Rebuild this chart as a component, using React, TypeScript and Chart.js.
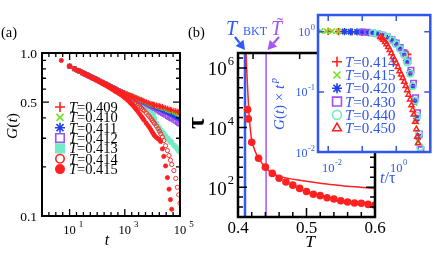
import React, { useEffect, useRef } from "react";
import { Chart, registerables } from "chart.js";
import { drawPoint } from "chart.js/helpers";
Chart.register(...registerables);

const SERIF = '"Liberation Serif","Times New Roman",Times,serif';
const RED = "#ff2020";
const GREEN = "#72e024";
const BLUE = "#1f3ff0";
const PURPLE = "#a24ff0";
const AQUA = "#72ecc6";
const IBLUE = "#2f56ee";
const LBLUE = "#2f5cf5";
const LPURPLE = "#a855f7";

// ---------------- Panel (a): G(t) vs t ----------------
const tEarly = [10, 15, 20, 25, 30, 35, 40, 45, 50, 60, 70, 80, 90, 100, 120, 140, 160, 180, 200, 230, 260, 300, 350, 400, 450, 500, 600, 700, 800, 900];
const gEarly = [0.83, 0.8, 0.78, 0.77, 0.755, 0.745, 0.738, 0.731, 0.724, 0.713, 0.704, 0.697, 0.69, 0.684, 0.673, 0.664, 0.656, 0.65, 0.645, 0.637, 0.63, 0.622, 0.614, 0.607, 0.601, 0.595, 0.586, 0.578, 0.572, 0.566];
const tLate = [1000, 1200, 1400, 1600, 1800, 2000, 2300, 2600, 3000, 3500, 4000, 4500, 5000, 6000, 7000, 8000, 9000, 10000, 11000, 12000, 14000, 16000, 18000, 20000, 23000, 26000, 30000, 35000, 40000, 45000, 50000, 60000, 70000, 80000, 90000, 100000];
const gLate409 = [0.565, 0.56, 0.553, 0.548, 0.544, 0.54, 0.535, 0.53, 0.525, 0.52, 0.515, 0.51, 0.506, 0.5, 0.495, 0.49, 0.487, 0.485, 0.482, 0.48, 0.477, 0.474, 0.472, 0.47, 0.467, 0.463, 0.46, 0.456, 0.452, 0.449, 0.447, 0.443, 0.44, 0.437, 0.434, 0.432];
const gLate410 = [0.565, 0.56, 0.553, 0.548, 0.544, 0.54, 0.535, 0.53, 0.525, 0.519, 0.513, 0.508, 0.504, 0.498, 0.492, 0.487, 0.483, 0.48, 0.477, 0.475, 0.471, 0.467, 0.465, 0.463, 0.459, 0.456, 0.452, 0.447, 0.443, 0.44, 0.437, 0.432, 0.428, 0.424, 0.421, 0.418];
const gLate411 = [0.563, 0.557, 0.551, 0.546, 0.541, 0.537, 0.531, 0.526, 0.52, 0.515, 0.51, 0.505, 0.501, 0.494, 0.488, 0.483, 0.479, 0.475, 0.471, 0.468, 0.463, 0.458, 0.455, 0.452, 0.447, 0.443, 0.438, 0.433, 0.428, 0.424, 0.42, 0.413, 0.407, 0.402, 0.398, 0.394];
const gLate412 = [0.562, 0.555, 0.549, 0.543, 0.538, 0.533, 0.527, 0.521, 0.515, 0.509, 0.503, 0.498, 0.494, 0.487, 0.48, 0.475, 0.47, 0.466, 0.461, 0.456, 0.449, 0.442, 0.437, 0.432, 0.426, 0.421, 0.415, 0.408, 0.402, 0.398, 0.394, 0.387, 0.381, 0.375, 0.37, 0.366];
const gLate413 = [0.555, 0.547, 0.539, 0.532, 0.526, 0.52, 0.512, 0.504, 0.495, 0.486, 0.478, 0.471, 0.466, 0.455, 0.446, 0.437, 0.428, 0.42, 0.413, 0.395, 0.37, 0.355, 0.345, 0.335, 0.327, 0.319, 0.31, 0.301, 0.293, 0.287, 0.282, 0.272, 0.265, 0.258, 0.252, 0.247];
const gLate414 = [0.548, 0.539, 0.531, 0.523, 0.515, 0.507, 0.497, 0.488, 0.478, 0.467, 0.458, 0.45, 0.443, 0.428, 0.416, 0.405, 0.395, 0.385, 0.377, 0.369, 0.356, 0.343, 0.331, 0.32, 0.305, 0.29, 0.27, 0.252, 0.235, 0.22, 0.207, 0.19, 0.17, 0.15, 0.135, 0.12];
const tA415 = [5, ...tEarly, ...tLate.slice(0, 31)];
const gA415 = [0.9, 0.83, 0.8, 0.78, 0.768, 0.753, 0.743, 0.735, 0.728, 0.72, 0.709, 0.7, 0.692, 0.685, 0.678, 0.666, 0.656, 0.648, 0.641, 0.635, 0.626, 0.618, 0.608, 0.598, 0.59, 0.583, 0.576, 0.565, 0.556, 0.548, 0.541,
  0.53, 0.517, 0.505, 0.494, 0.484, 0.475, 0.462, 0.45, 0.436, 0.421, 0.408, 0.397, 0.387, 0.371, 0.358, 0.347, 0.336, 0.326, 0.318, 0.311, 0.303, 0.298, 0.293, 0.286, 0.258, 0.232, 0.203, 0.172, 0.146, 0.126, 0.11];
const tA = [...tEarly, ...tLate];
const legendA = ["0.409", "0.410", "0.411", "0.412", "0.413", "0.414", "0.415"];

// ---------------- Panel (b): tau vs T ----------------
const bT = [0.414, 0.415, 0.42, 0.43, 0.44, 0.45, 0.46, 0.47, 0.48, 0.49, 0.5, 0.51, 0.52, 0.53, 0.54, 0.55, 0.56, 0.57, 0.58, 0.59, 0.6];
const bTau = [40000, 19500, 3200, 930, 470, 290, 200, 150, 117, 91, 72, 58, 52, 44, 40, 35, 32, 29.5, 29, 26.5, 25];
const fitT = [0.4115, 0.412, 0.413, 0.414, 0.415, 0.4165, 0.418, 0.42, 0.425, 0.43, 0.44, 0.45, 0.46, 0.47, 0.49, 0.52, 0.54, 0.56, 0.6];
const fitTau = [5e6, 2.2e6, 6.3e5, 2.2e5, 8e4, 2e4, 9000, 3800, 1600, 950, 460, 290, 235, 205, 170, 135, 120, 107, 91];
const T_BKT = 0.4102;
const T_TILDE = 0.441;

// ---------------- Inset: G(t) t^p vs t/tau ----------------
const ix414 = [0.0025, 0.005, 0.01, 0.02, 0.05, 0.1, 0.2, 0.4, 0.7, 1.0, 1.5, 2.2];
const iy414 = [1.03, 1.03, 1.02, 1.01, 1.0, 0.98, 0.95, 0.87, 0.74, 0.63, 0.5, 0.42];
const ix415 = [0.006, 0.009, 0.013, 0.02, 0.03, 0.045, 0.07, 0.1, 0.15, 0.22, 0.32, 0.45, 0.65, 0.9, 1.2, 1.6, 2.0, 2.5, 3.0, 3.5, 4.0, 4.4];
const iy415 = [1.03, 1.03, 1.03, 1.02, 1.02, 1.01, 1.0, 0.99, 0.97, 0.94, 0.9, 0.85, 0.76, 0.66, 0.55, 0.43, 0.32, 0.2, 0.12, 0.065, 0.032, 0.015];
const ix420 = [0.03, 0.045, 0.07, 0.1, 0.15, 0.22, 0.32, 0.45, 0.65, 0.9, 1.2, 1.6, 2.0, 2.5, 3.0, 3.5, 4.0, 4.5];
const iy420 = [1.01, 1.0, 0.995, 0.985, 0.97, 0.945, 0.91, 0.86, 0.77, 0.67, 0.56, 0.44, 0.33, 0.21, 0.125, 0.07, 0.036, 0.018];
const ix430 = [0.1, 0.14, 0.2, 0.28, 0.4, 0.55, 0.75, 1.0, 1.3, 1.7, 2.2, 2.7, 3.2, 3.7, 4.2, 4.8, 5.3];
const iy430 = [0.99, 0.98, 0.96, 0.93, 0.88, 0.82, 0.74, 0.65, 0.55, 0.45, 0.33, 0.23, 0.14, 0.08, 0.045, 0.02, 0.011];
const ix440 = [0.2, 0.28, 0.4, 0.55, 0.75, 1.0, 1.3, 1.7, 2.1, 2.6, 3.1, 3.6, 4.1, 4.6, 5.0];
const iy440 = [0.96, 0.93, 0.88, 0.81, 0.72, 0.62, 0.52, 0.41, 0.31, 0.2, 0.125, 0.072, 0.04, 0.02, 0.012];
const ix450 = [0.34, 0.38, 0.42, 0.47, 0.52, 0.58, 0.65, 0.72, 0.8, 0.9, 1.0, 1.12, 1.25, 1.4, 1.55, 1.72, 1.9, 2.1, 2.3, 2.55, 2.8, 3.05, 3.3, 3.6, 3.9, 4.15, 4.4];
const iy450 = [0.82, 0.78, 0.74, 0.68, 0.62, 0.56, 0.5, 0.44, 0.38, 0.34, 0.3, 0.26, 0.22, 0.195, 0.17, 0.147, 0.125, 0.107, 0.09, 0.075, 0.06, 0.05, 0.042, 0.032, 0.024, 0.018, 0.014];
const legendI = ["0.414", "0.415", "0.420", "0.430", "0.440", "0.450"];

// ---------------- helpers ----------------
type Seg = { t: string; s: number; it?: boolean; b?: boolean; dy?: number; dx?: number };
const fontOf = (g: Seg) => `${g.it ? "italic " : ""}${g.b ? "bold " : ""}${g.s}px ${SERIF}`;
function segsWidth(ctx: CanvasRenderingContext2D, segs: Seg[]) {
  let w = 0;
  for (const g of segs) { ctx.font = fontOf(g); w += (g.dx || 0) + ctx.measureText(g.t).width; }
  return w;
}
function drawRich(ctx: CanvasRenderingContext2D, segs: Seg[], x: number, y: number, align: string, color: string, rot = 0) {
  ctx.save();
  ctx.translate(x, y);
  if (rot) ctx.rotate(rot);
  ctx.fillStyle = color;
  ctx.textBaseline = "alphabetic";
  ctx.textAlign = "left";
  let cx = 0;
  if (align === "center") cx = -segsWidth(ctx, segs) / 2;
  else if (align === "right") cx = -segsWidth(ctx, segs);
  else if (align === "first") cx = -segsWidth(ctx, [segs[0]]) / 2;
  for (const g of segs) {
    ctx.font = fontOf(g);
    cx += g.dx || 0;
    ctx.fillText(g.t, cx, g.dy || 0);
    cx += ctx.measureText(g.t).width;
  }
  ctx.restore();
}
const pow10 = (e: string, s: number, es: number, dy: number, gap = 0): Seg[] => [{ t: "10", s }, { t: e, s: es, dy, dx: gap }];

function marker(ctx: CanvasRenderingContext2D, style: string, x: number, y: number, r: number, stroke: string, fill: string, bw: number) {
  ctx.save();
  ctx.strokeStyle = stroke;
  ctx.fillStyle = fill;
  ctx.lineWidth = bw;
  drawPoint(ctx, { pointStyle: style, radius: r, rotation: 0, borderWidth: bw } as any, x, y);
  ctx.restore();
}
function arrow(ctx: CanvasRenderingContext2D, x1: number, y1: number, x2: number, y2: number, color: string, w: number, head: number) {
  ctx.save();
  ctx.strokeStyle = color; ctx.fillStyle = color; ctx.lineWidth = w;
  const a = Math.atan2(y2 - y1, x2 - x1);
  const bx = x2 - head * Math.cos(a), by = y2 - head * Math.sin(a);
  ctx.beginPath(); ctx.moveTo(x1, y1); ctx.lineTo(bx, by); ctx.stroke();
  const hw = head * 0.55;
  ctx.beginPath();
  ctx.moveTo(x2, y2);
  ctx.lineTo(bx + hw * Math.sin(a), by - hw * Math.cos(a));
  ctx.lineTo(bx - hw * Math.sin(a), by + hw * Math.cos(a));
  ctx.closePath(); ctx.fill();
  ctx.restore();
}

type Tk = { v: number; len: number };
function decoPlugin(o: { color: string; frameW: number; tickW: number; xt: Tk[]; xtTop?: Tk[]; yt: Tk[]; bg?: string; extra: (c: any, ctx: CanvasRenderingContext2D) => void }) {
  return {
    id: "deco",
    beforeDatasetsDraw(chart: any) {
      if (!o.bg) return;
      const a = chart.chartArea, ctx = chart.ctx;
      ctx.save(); ctx.fillStyle = o.bg; ctx.fillRect(a.left, a.top, a.right - a.left, a.bottom - a.top); ctx.restore();
    },
    afterDraw(chart: any) {
      const ctx: CanvasRenderingContext2D = chart.ctx;
      const a = chart.chartArea, xs = chart.scales.x, ys = chart.scales.y;
      ctx.save();
      ctx.strokeStyle = o.color; ctx.lineWidth = o.tickW;
      ctx.beginPath();
      for (const t of o.xt) { const p = xs.getPixelForValue(t.v); ctx.moveTo(p, a.bottom); ctx.lineTo(p, a.bottom - t.len); }
      for (const t of (o.xtTop || o.xt)) { const p = xs.getPixelForValue(t.v); ctx.moveTo(p, a.top); ctx.lineTo(p, a.top + t.len); }
      for (const t of o.yt) { const p = ys.getPixelForValue(t.v); ctx.moveTo(a.left, p); ctx.lineTo(a.left + t.len, p); ctx.moveTo(a.right, p); ctx.lineTo(a.right - t.len, p); }
      ctx.stroke();
      ctx.lineWidth = o.frameW;
      ctx.strokeRect(a.left, a.top, a.right - a.left, a.bottom - a.top);
      ctx.restore();
      o.extra(chart, ctx);
    },
  };
}
const pts = (xs: number[], ys: number[]) => xs.map((x, i) => ({ x, y: ys[i] }));
const baseOpts = (pad: any, xsc: any, ysc: any) => ({
  animation: false, responsive: false, maintainAspectRatio: false, events: [],
  layout: { padding: pad },
  plugins: { legend: { display: false }, tooltip: { enabled: false }, title: { display: false } },
  scales: { x: { ...xsc, display: false }, y: { ...ysc, display: false } },
});

// ---------------- chart configs ----------------
const styleA: any = {
  "0.409": { pointStyle: "cross", borderColor: RED, backgroundColor: RED, r: 2.8, bw: 1.2 },
  "0.410": { pointStyle: "crossRot", borderColor: GREEN, backgroundColor: GREEN, r: 2.8, bw: 1.2 },
  "0.411": { pointStyle: "star", borderColor: BLUE, backgroundColor: BLUE, r: 2.8, bw: 1.1 },
  "0.412": { pointStyle: "rect", borderColor: PURPLE, backgroundColor: "rgba(0,0,0,0)", r: 2.8, bw: 1.1 },
  "0.413": { pointStyle: "rect", borderColor: AQUA, backgroundColor: AQUA, r: 2.8, bw: 1 },
  "0.414": { pointStyle: "circle", borderColor: RED, backgroundColor: "rgba(0,0,0,0)", r: 2.1, bw: 0.9 },
  "0.415": { pointStyle: "circle", borderColor: RED, backgroundColor: RED, r: 2.1, bw: 0.8 },
};
const dsA = (key: string, xs: number[], ys: number[]) => {
  const s = styleA[key];
  return { data: pts(xs, ys), pointStyle: s.pointStyle, borderColor: s.borderColor, backgroundColor: s.backgroundColor, pointRadius: s.r, borderWidth: s.bw, showLine: false };
};

function configA() {
  const xt: Tk[] = [];
  for (let k = 0; k <= 20; k++) xt.push({ v: Math.pow(10, k / 4), len: k % 8 === 4 ? 7 : 4 });
  const yt: Tk[] = [0.1, 0.2, 0.3, 0.4, 0.5, 0.6, 0.7, 0.8, 0.9, 1.0].map((v) => ({ v, len: v === 0.1 || v === 0.5 || v === 1.0 ? 7 : 4 }));
  return {
    type: "scatter",
    data: {
      datasets: [
        dsA("0.415", tA415, gA415),
        dsA("0.414", tA, [...gEarly, ...gLate414]),
        dsA("0.409", tA, [...gEarly, ...gLate409]),
        dsA("0.410", tA, [...gEarly, ...gLate410]),
        dsA("0.411", tA, [...gEarly, ...gLate411]),
        dsA("0.412", tA, [...gEarly, ...gLate412]),
        dsA("0.413", tA, [...gEarly, ...gLate413]),
      ],
    },
    options: baseOpts({ left: 42, top: 53, right: 20, bottom: 37 }, { type: "logarithmic", min: 1, max: 1e5 }, { type: "logarithmic", min: 0.1, max: 1.0 }),
    plugins: [decoPlugin({
      color: "#000", frameW: 2, tickW: 1.3, xt, yt,
      extra: (c, ctx) => {
        const xs = c.scales.x, ys = c.scales.y;
        drawRich(ctx, [{ t: "(a)", s: 14.5 }], 1, 37, "left", "#000");
        for (const [v, l] of [[1.0, "1.0"], [0.5, "0.5"], [0.1, "0.1"]] as [number, string][]) {
          drawRich(ctx, [{ t: l, s: 13.5 }], 37, ys.getPixelForValue(v) + 4.5, "right", "#000");
        }
        for (const e of [1, 3, 5]) {
          drawRich(ctx, pow10(String(e), 12.5, 9, -7, 3), xs.getPixelForValue(Math.pow(10, e)), 233.5, "first", "#000");
        }
        drawRich(ctx, [{ t: "G", s: 15.5, it: true }, { t: "(", s: 15.5 }, { t: "t", s: 15.5, it: true }, { t: ")", s: 15.5 }], 17, 126, "center", "#000", -Math.PI / 2);
        drawRich(ctx, [{ t: "t", s: 16, it: true }], 107, 245, "center", "#000");
        legendA.forEach((lab, i) => {
          const y = 107 + i * 10.35;
          const s = styleA[lab];
          marker(ctx, s.pointStyle, 60, y, s.pointStyle === "rect" ? 6 : s.pointStyle === "circle" ? 4.2 : 5, s.borderColor, s.backgroundColor === "rgba(0,0,0,0)" ? "#fff" : s.backgroundColor, 1.6);
          drawRich(ctx, [{ t: "T", s: 14.5, it: true }, { t: "=" + lab, s: 14.5 }], 69, y + 5, "left", "#000");
        });
      },
    })],
  };
}

function configB() {
  const L = 185;
  const xt: Tk[] = [];
  for (let i = 0; i <= 10; i++) xt.push({ v: 0.4 + 0.02 * i, len: i % 5 === 0 ? 9 : 5 });
  const yt: Tk[] = [];
  for (let k = 3; k <= 19; k++) yt.push({ v: Math.pow(10, k / 3), len: k % 6 === 0 ? 9 : 5 });
  return {
    type: "scatter",
    data: {
      datasets: [
        { data: pts(bT, bTau), pointStyle: "circle", pointRadius: 3.8, borderWidth: 0, backgroundColor: RED, borderColor: RED, showLine: false },
        { data: pts(fitT, fitTau), showLine: true, pointRadius: 0, borderColor: RED, borderWidth: 1.5, tension: 0.3 },
        { data: [{ x: T_BKT, y: 10 }, { x: T_BKT, y: 3.2e6 }], showLine: true, pointRadius: 0, borderColor: LBLUE, borderWidth: 2.5 },
        { data: [{ x: T_TILDE, y: 10 }, { x: T_TILDE, y: 3.2e6 }], showLine: true, pointRadius: 0, borderColor: LPURPLE, borderWidth: 1.5 },
      ],
    },
    options: baseOpts({ left: 53, top: 53, right: 61, bottom: 36 }, { type: "linear", min: 0.4, max: 0.6 }, { type: "logarithmic", min: 10, max: 3162278 }),
    plugins: [decoPlugin({
      color: "#000", frameW: 2.5, tickW: 1.5, xt, yt,
      xtTop: [{ v: 0.422, len: 6 }, { v: 0.49, len: 6 }],
      extra: (c, ctx) => {
        const xs = c.scales.x, ys = c.scales.y;
        drawRich(ctx, [{ t: "(b)", s: 14.5 }], 188 - L, 37, "left", "#000");
        for (const e of [6, 4, 2]) {
          drawRich(ctx, pow10(String(e), 19, 12.5, -10.5, 1), 234 - L, ys.getPixelForValue(Math.pow(10, e)) + 7.5, "right", "#000");
        }
        for (const v of [0.4, 0.5, 0.6]) {
          drawRich(ctx, [{ t: v.toFixed(1), s: 17 }], xs.getPixelForValue(v), 232.5, "center", "#000");
        }
        drawRich(ctx, [{ t: "τ", s: 26, b: true }], 204 - L, 123, "center", "#000", -Math.PI / 2);
        drawRich(ctx, [{ t: "T", s: 17.5, it: true }], 310 - L, 246.5, "center", "#000");
        drawRich(ctx, [{ t: "T", s: 20, it: true }], 226 - L, 35, "left", LBLUE);
        drawRich(ctx, [{ t: "BKT", s: 12 }], 243 - L, 35, "left", LBLUE);
        arrow(ctx, 235 - L, 37, 245 - L, 50, LBLUE, 2.2, 9);
        drawRich(ctx, [{ t: "T", s: 20, it: true }], 271 - L, 35, "left", LPURPLE);
        drawRich(ctx, [{ t: "˜", s: 20 }], 280 - L, 32, "center", LPURPLE);
        arrow(ctx, 279 - L, 37, 267.5 - L, 50, LPURPLE, 2.2, 9);
      },
    })],
  };
}

const styleI: any = {
  "0.414": { pointStyle: "cross", borderColor: RED, backgroundColor: RED, r: 3.6, bw: 1.7 },
  "0.415": { pointStyle: "crossRot", borderColor: GREEN, backgroundColor: GREEN, r: 3.6, bw: 1.7 },
  "0.420": { pointStyle: "star", borderColor: BLUE, backgroundColor: BLUE, r: 3.6, bw: 1.5 },
  "0.430": { pointStyle: "rect", borderColor: PURPLE, backgroundColor: "rgba(0,0,0,0)", r: 3.8, bw: 1.6 },
  "0.440": { pointStyle: "circle", borderColor: AQUA, backgroundColor: "rgba(0,0,0,0)", r: 3.2, bw: 1.5 },
  "0.450": { pointStyle: "triangle", borderColor: RED, backgroundColor: "rgba(0,0,0,0)", r: 3.0, bw: 1.5 },
};
const dsI = (key: string, xs: number[], ys: number[]) => {
  const s = styleI[key];
  return { data: pts(xs, ys), pointStyle: s.pointStyle, borderColor: s.borderColor, backgroundColor: s.backgroundColor, pointRadius: s.r, borderWidth: s.bw, showLine: false };
};

function configI() {
  const L = 270;
  const xt: Tk[] = [0.01, 0.1, 1].map((v) => ({ v, len: 6 }));
  const yt: Tk[] = [0.1, 1].map((v) => ({ v, len: 6 }));
  return {
    type: "scatter",
    data: {
      datasets: [
        dsI("0.450", ix450, iy450),
        dsI("0.440", ix440, iy440),
        dsI("0.430", ix430, iy430),
        dsI("0.420", ix420, iy420),
        dsI("0.415", ix415, iy415),
        dsI("0.414", ix414, iy414),
      ],
    },
    options: baseOpts({ left: 48, top: 15, right: 3, bottom: 38 }, { type: "logarithmic", min: 0.005012, max: 10 }, { type: "logarithmic", min: 0.01, max: 1.905 }),
    plugins: [decoPlugin({
      color: IBLUE, frameW: 2.5, tickW: 1.5, xt, yt, bg: "#fff",
      extra: (c, ctx) => {
        const xs = c.scales.x, ys = c.scales.y;
        for (const [v, e] of [[1, "0"], [0.1, "-1"], [0.01, "-2"]] as [number, string][]) {
          drawRich(ctx, pow10(e, 12, 8.5, -6, 0.5), 315 - L, ys.getPixelForValue(v) + 4.5, "right", IBLUE);
        }
        for (const [v, e] of [[0.01, "-2"], [1, "0"]] as [number, string][]) {
          drawRich(ctx, pow10(e, 12.5, 8.5, -7, 0.5), xs.getPixelForValue(v), 171.5, "first", IBLUE);
        }
        drawRich(ctx, [
          { t: "G", s: 15, it: true }, { t: "(", s: 15 }, { t: "t", s: 15, it: true }, { t: ")", s: 15 },
          { t: " × ", s: 15 }, { t: "t", s: 15, it: true }, { t: "p", s: 10.5, it: true, dy: -7, dx: 1.5 },
        ], 284 - L, 104, "center", IBLUE, -Math.PI / 2);
        drawRich(ctx, [{ t: "t", s: 16, it: true }, { t: "/τ", s: 16 }], 380 - L, 183, "left", IBLUE);
        legendI.forEach((lab, i) => {
          const y = 61.7 + i * 13.3;
          const s = styleI[lab];
          marker(ctx, s.pointStyle, 337 - L, y, s.pointStyle === "rect" ? 6.3 : s.pointStyle === "circle" ? 4.5 : 5, s.borderColor, s.backgroundColor === "rgba(0,0,0,0)" ? "#fff" : s.backgroundColor, 1.6);
          drawRich(ctx, [{ t: "T", s: 15, it: true }, { t: "=" + lab, s: 15 }], 345 - L, y + 5, "left", IBLUE);
        });
      },
    })],
  };
}

function ChartCanvas(props: { left: number; top: number; width: number; height: number; make: () => any; z: number }) {
  const ref = useRef<HTMLCanvasElement>(null);
  useEffect(() => {
    const chart = new Chart(ref.current as HTMLCanvasElement, props.make());
    return () => chart.destroy();
  }, []);
  return (
    <canvas
      ref={ref}
      width={props.width}
      height={props.height}
      style={{ position: "absolute", left: props.left, top: props.top, width: props.width, height: props.height, zIndex: props.z }}
    />
  );
}

export default function App() {
  return (
    <div style={{ position: "fixed", left: 0, top: 0, width: 436, height: 253, background: "#fff", overflow: "hidden" }}>
      <ChartCanvas left={0} top={0} width={200} height={253} make={configA} z={1} />
      <ChartCanvas left={185} top={0} width={251} height={253} make={configB} z={2} />
      <ChartCanvas left={270} top={0} width={166} height={190} make={configI} z={3} />
    </div>
  );
}
